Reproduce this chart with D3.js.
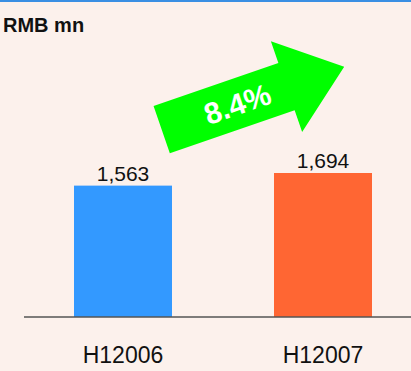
<!DOCTYPE html>
<html>
<head>
<meta charset="utf-8">
<script src="https://cdn.jsdelivr.net/npm/d3@7"></script>
<style>
  html, body { margin: 0; padding: 0; background: #fcf1ec; }
  svg { display: block; }
  text { font-family: "Liberation Sans", Arial, sans-serif; }
</style>
</head>
<body>
<svg id="chart" width="411" height="371"></svg>
<script>
// Half-year revenue, RMB million
const categories = ["H12006", "H12007"];
const values = [1563, 1694];
const valueLabels = ["1,563", "1,694"];
const barColors = ["#3399ff", "#ff6633"];
const growthLabel = "8.4%";
const unitLabel = "RMB mn";

const W = 411, H = 371;
const axisY = 317;

const svg = d3.select("#chart");

// background and top rule
svg.append("rect").attr("width", W).attr("height", H).attr("fill", "#fcf1ec");
svg.append("rect").attr("x", 0).attr("y", 0).attr("width", W).attr("height", 2).attr("fill", "#3a8fe3");

const x = d3.scaleBand()
  .domain(categories)
  .range([24, 422])
  .paddingInner(0.51)
  .paddingOuter(0.25);

const y = d3.scaleLinear()
  .domain([200, 1694])
  .range([axisY, 173]);

// bars
svg.append("g").selectAll("rect")
  .data(values)
  .join("rect")
  .attr("x", (d, i) => x(categories[i]))
  .attr("y", d => y(d))
  .attr("width", x.bandwidth())
  .attr("height", d => axisY - y(d))
  .attr("fill", (d, i) => barColors[i]);

// value labels
svg.append("g").selectAll("text")
  .data(values)
  .join("text")
  .attr("x", (d, i) => x(categories[i]) + x.bandwidth() / 2)
  .attr("y", d => y(d) - 5)
  .attr("text-anchor", "middle")
  .attr("font-size", 21)
  .attr("fill", "#111")
  .text((d, i) => valueLabels[i]);

// baseline axis with category labels
const xAxis = d3.axisBottom(x).tickSize(0).tickPadding(30);
const axisG = svg.append("g")
  .attr("transform", `translate(0,${axisY})`)
  .call(xAxis);
axisG.select(".domain")
  .attr("d", `M24,0H${W}`)
  .attr("stroke", "#555")
  .attr("stroke-width", 1.5);
axisG.selectAll(".tick text")
  .attr("font-size", 23)
  .attr("font-family", "Liberation Sans, Arial, sans-serif")
  .attr("fill", "#111");

// unit label
svg.append("text")
  .attr("x", 3)
  .attr("y", 32)
  .attr("font-size", 20)
  .attr("font-weight", "bold")
  .attr("fill", "#111")
  .text(unitLabel);

// growth arrow (drawn in a local frame, then rotated)
const shaftHalf = 25, shaftLen = 132, headHalf = 48, tipLen = 193;
const arrowPts = [
  [0, -shaftHalf], [shaftLen, -shaftHalf], [shaftLen, -headHalf],
  [tipLen, 0], [shaftLen, headHalf], [shaftLen, shaftHalf], [0, shaftHalf]
];
const arrow = svg.append("g")
  .attr("transform", "translate(161.7,129.7) rotate(-19)");
arrow.append("path")
  .attr("d", d3.line()(arrowPts) + "Z")
  .attr("fill", "#00ff00");
arrow.append("text")
  .attr("x", 80)
  .attr("y", 11)
  .attr("text-anchor", "middle")
  .attr("font-size", 30)
  .attr("font-weight", "bold")
  .attr("fill", "#ffffff")
  .text(growthLabel);
</script>
</body>
</html>
